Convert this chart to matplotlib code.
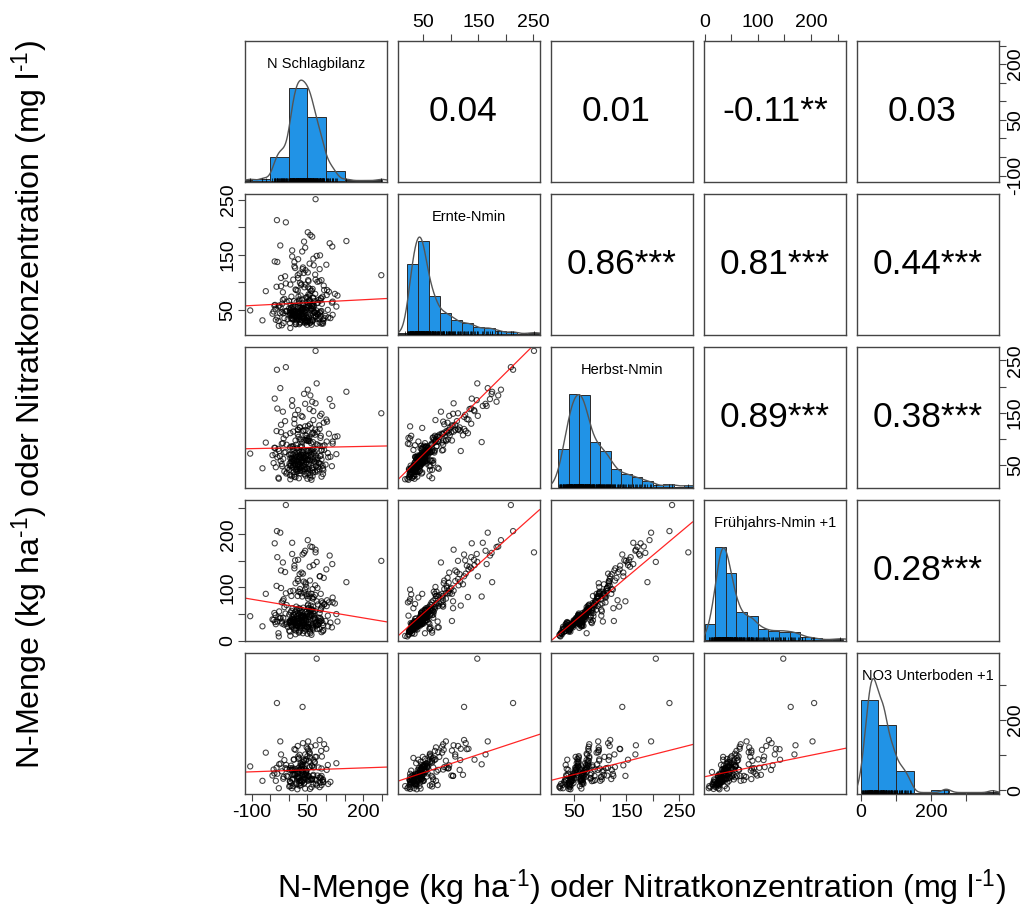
import numpy as np
import matplotlib.pyplot as plt

plt.rcParams['font.family'] = ['Liberation Sans', 'DejaVu Sans']
plt.rcParams['mathtext.fontset'] = 'custom'
plt.rcParams['mathtext.rm'] = 'Liberation Sans'
plt.rcParams['mathtext.it'] = 'Liberation Sans:italic'
plt.rcParams['mathtext.default'] = 'regular'

nan = np.nan

var_names = ['N Schlagbilanz', 'Ernte-Nmin', 'Herbst-Nmin',
             'Frühjahrs-Nmin +1', 'NO3 Unterboden +1']

# one value per field/year, same order in every list (nan = no subsoil sample)
schlagbilanz = [
    42, 18, 65, -12, 27, 57, 4, 8, 71, 31,
    24, -28, 52, 14, 88, 13, 45, 61, 29, -5,
    50, 35, 85, 22, 20, -18, 63, 41, 12, 76,
    39, 54, 28, 2, -35, 69, 31, 17, 5, 82,
    38, 51, 26, 9, 116, 36, 92, 17, 45, -22,
    66, 34, 91, 23, 74, 21, 9, 55, 1, 30,
    62, -41, 37, 53, 14, 25, 79, 32, 6, 93,
    25, 49, 57, 2, 44, 61, 27, -9, 52, 11,
    105, 19, 47, 70, 33, -31, 56, 15, 11, 84,
    39, 28, -104, 65, 30, 87, 4, 46, 73, 36,
    -15, 128, 21, 23, 59, 48, 89, 16, 43, -44,
    67, 35, 51, 27, 78, 7, 112, 8, 54, 40,
    -24, 62, 31, 95, 19, 38, 35, -19, 48, 22,
    96, 102, 12, -62, 66, 29, 52, 10, 75, -37,
    47, 83, 36, -6, 60, 18, 91, 3, 118, 33,
    -28, 26, 64, -14, 45, 71, 12, 55, 108, 24,
    86, -33, 49, 83, 24, 77, 131, 40, -8, 67,
    52, 44, 94, -21, 66, 29, 103, 15, 82, 15,
    61, 34, -16, 56, 88, 25, 72, 9, 117, -38,
    63, 41, 51, 37, 249, 155, 75, -32, -8, 72,
    3, 77, -27, 48, 15, 92, 36, 58, 21, -7,
    64, 28, 54, 10, 83, 39, -71, 69, 19, 47,
    6, 61, 32, -19, 73, 26, 44, 99, 12, 57,
    34, -3, 80, 23, 50, 41, 16, 43, 67, 8,
    -26, 52, 29, 86, 1, 37, 63, 18, -12, 46,
    75, 24, 106, 33, 59, 14, -36, 70, 40, 5,
    88, 27, 49, 31, -16, 56, 11, 78, 42, -39,
    65, 20, 118, 35, 53, 7, 48, -21, 85, 25,
    62, 124, 38, 4, 71, 45, 57, -10, 30, 101,
    52, 17, 66, -31, 84, 44, 110, 9, 58, -23,
]
ernte_nmin = [
    28, 24, 31, 35, 66, 27, 17, 33, 38, 26,
    44, 30, 29, 36, 25, 41, 32, 23, 37, 48,
    34, 31, 38, 44, 27, 61, 29, 47, 33, 62,
    52, 36, 24, 40, 32, 45, 28, 37, 43, 34,
    62, 30, 46, 39, 63, 50, 33, 41, 29, 55,
    36, 42, 27, 38, 49, 31, 35, 57, 66, 44,
    32, 47, 39, 78, 66, 34, 43, 37, 53, 30,
    40, 35, 68, 45, 45, 52, 38, 48, 57, 43,
    50, 41, 59, 46, 54, 36, 62, 47, 51, 44,
    58, 40, 49, 53, 46, 71, 42, 55, 39, 69,
    44, 56, 64, 45, 50, 37, 61, 47, 52, 43,
    58, 49, 118, 46, 41, 54, 35, 47, 66, 51,
    44, 57, 39, 86, 48, 53, 52, 22, 73, 45,
    35, 77, 57, 84, 48, 69, 91, 55, 25, 59,
    72, 46, 156, 65, 53, 87, 74, 49, 41, 95,
    56, 74, 88, 26, 96, 79, 105, 68, 83, 113,
    71, 92, 23, 124, 85, 101, 76, 117, 98, 131,
    73, 26, 94, 108, 72, 116, 86, 129, 102, 137,
    48, 97, 82, 134, 104, 142, 105, 147, 165, 138,
    183, 174, 191, 124, 113, 175, 148, 213, 209, 251,
    26, 34, 21, 30, 39, 25, 43, 29, 36, 47,
    61, 33, 38, 42, 27, 36, 31, 45, 24, 40,
    35, 51, 76, 46, 37, 53, 30, 39, 44, 26,
    49, 33, 68, 37, 64, 34, 56, 48, 55, 44,
    58, 41, 62, 47, 53, 38, 57, 46, 70, 50,
    43, 56, 36, 49, 84, 45, 52, 66, 42, 59,
    48, 32, 54, 54, 68, 77, 47, 63, 91, 58,
    72, 86, 65, 51, 102, 74, 28, 93, 67, 108,
    85, 79, 127, 96, 114, 122, 88, 111, 99, 132,
    104, 126, 143, 137, 149, 163, 171, 158, 186, 167,
]
herbst_nmin = [
    33, 27, 36, 38, 25, 31, 23, 29, 37, 34,
    39, 26, 35, 32, 28, 37, 30, 22, 39, 36,
    24, 45, 52, 57, 42, 48, 44, 55, 50, 41,
    58, 47, 43, 53, 46, 56, 40, 51, 49, 54,
    59, 42, 52, 45, 48, 57, 44, 50, 46, 58,
    41, 55, 49, 43, 53, 47, 56, 59, 41, 51,
    45, 54, 48, 43, 58, 50, 47, 55, 57, 40,
    52, 44, 59, 49, 64, 71, 62, 75, 68, 61,
    73, 66, 77, 63, 69, 65, 74, 60, 70, 67,
    79, 64, 72, 61, 66, 78, 63, 70, 68, 76,
    62, 71, 75, 67, 65, 60, 79, 73, 63, 69,
    74, 61, 77, 68, 64, 72, 66, 62, 78, 70,
    67, 76, 63, 79, 69, 74, 84, 91, 97, 82,
    88, 95, 86, 93, 81, 99, 96, 85, 90, 83,
    98, 87, 94, 89, 92, 97, 86, 84, 95, 99,
    81, 104, 112, 101, 117, 108, 114, 103, 110, 118,
    106, 115, 102, 119, 109, 113, 105, 116, 107, 111,
    100, 124, 131, 127, 136, 122, 133, 138, 126, 129,
    121, 144, 152, 157, 148, 155, 168, 174, 163, 177,
    171, 186, 194, 142, 149, 190, 206, 232, 237, 268,
    31, 38, 24, 35, 28, 33, 39, 26, 37, 34,
    29, 46, 53, 58, 42, 50, 44, 57, 41, 55,
    49, 59, 45, 52, 48, 56, 43, 51, 47, 40,
    58, 45, 54, 50, 59, 42, 53, 66, 72, 63,
    77, 61, 75, 68, 70, 64, 79, 62, 74, 67,
    60, 73, 65, 69, 78, 63, 71, 76, 66, 70,
    61, 79, 68, 85, 92, 96, 81, 88, 98, 83,
    94, 89, 91, 87, 97, 86, 106, 113, 102, 117,
    109, 104, 115, 111, 118, 107, 128, 134, 122, 137,
    125, 146, 153, 158, 144, 167, 176, 163, 183, 197,
]
fruehjahrs_nmin = [
    18, 12, 25, 30, 15, 22, 9, 26, 33, 19,
    28, 14, 31, 24, 16, 35, 21, 11, 27, 34,
    13, 28, 36, 41, 24, 32, 30, 39, 35, 22,
    44, 29, 17, 37, 31, 42, 23, 34, 38, 33,
    47, 26, 40, 27, 25, 46, 29, 36, 32, 43,
    21, 38, 33, 28, 35, 30, 41, 45, 19, 34,
    27, 39, 31, 25, 48, 37, 30, 42, 36, 20,
    33, 26, 49, 35, 42, 48, 33, 51, 45, 38,
    47, 29, 55, 40, 44, 36, 57, 31, 49, 43,
    62, 35, 46, 41, 52, 60, 37, 39, 28, 54,
    43, 50, 58, 47, 32, 24, 64, 53, 45, 40,
    51, 36, 66, 48, 30, 56, 34, 44, 61, 46,
    42, 59, 27, 68, 50, 14, 58, 72, 84, 46,
    69, 65, 38, 88, 55, 92, 79, 61, 74, 35,
    101, 52, 83, 67, 58, 108, 71, 33, 81, 89,
    44, 92, 97, 78, 109, 86, 94, 55, 72, 116,
    88, 103, 47, 121, 84, 99, 36, 111, 89, 82,
    68, 96, 118, 132, 64, 125, 76, 141, 37, 136,
    88, 128, 147, 139, 74, 152, 171, 163, 144, 183,
    176, 165, 189, 162, 150, 110, 148, 206, 255, 166,
    17, 29, 8, 26, 21, 18, 33, 14, 28, 31,
    23, 31, 35, 40, 22, 34, 27, 44, 19, 38,
    29, 46, 25, 36, 33, 42, 28, 37, 30, 17,
    48, 26, 43, 32, 51, 24, 39, 43, 47, 36,
    55, 33, 60, 41, 49, 29, 58, 37, 63, 45,
    31, 52, 27, 44, 66, 40, 48, 56, 35, 53,
    38, 61, 50, 57, 75, 83, 39, 68, 90, 52,
    79, 64, 72, 46, 88, 84, 87, 99, 58, 112,
    81, 70, 126, 93, 104, 106, 113, 129, 97, 134,
    61, 151, 142, 157, 121, 169, 160, 184, 177, 203,
]
no3_unterboden = [
    22, nan, 41, nan, 18, nan, 12, 6, nan, 28,
    47, nan, 30, nan, 15, 87, nan, 9, 13, 61,
    nan, 25, nan, 55, 19, nan, 33, 62, nan, 14,
    71, 40, nan, 58, 27, nan, 21, 45, nan, 36,
    80, nan, 64, 30, nan, 68, 24, 49, nan, 76,
    17, nan, 29, 3, 95, nan, 43, 66, 11, nan,
    31, 59, 42, nan, 88, 35, nan, 77, 70, 23,
    nan, 37, 93, nan, 5, nan, 26, 63, nan, 12,
    72, nan, 85, 31, nan, 47, 104, nan, 58, 22,
    nan, 36, 68, nan, 41, 112, nan, 54, 19, nan,
    33, 77, nan, 49, 29, nan, 96, 61, nan, 42,
    65, nan, 118, 37, nan, 59, 24, nan, 83, 46,
    nan, 70, 28, 131, nan, 52, 67, nan, 122, 35,
    nan, 58, nan, 107, 44, nan, 139, nan, 29, nan,
    88, nan, 74, 41, nan, 115, nan, 26, nan, 62,
    nan, 53, nan, 38, nan, 95, nan, 31, nan, 126,
    nan, 64, nan, 143, nan, 42, nan, 86, nan, nan,
    27, 47, nan, 102, nan, 58, nan, 117, nan, nan,
    32, 71, nan, nan, 41, nan, 128, nan, nan, nan,
    nan, nan, nan, 237, nan, nan, 374, 248, nan, nan,
    24, nan, 6, 43, nan, 31, 58, nan, 17, 72,
    nan, 36, nan, 63, 9, nan, 27, 81, nan, 48,
    21, nan, 15, 54, nan, 89, 33, nan, 46, 4,
    nan, 39, 65, nan, 97, 19, nan, 42, nan, 57,
    74, nan, 101, 34, nan, 25, 68, nan, 86, 51,
    nan, 39, 18, nan, 124, 45, nan, 79, 29, nan,
    62, 92, nan, 71, nan, 108, 33, nan, 84, 48,
    nan, 59, nan, 27, 113, nan, 56, nan, 37, 96,
    nan, nan, 134, 63, nan, 44, 66, nan, nan, 118,
    41, nan, 87, nan, nan, 102, nan, nan, nan, 139,
]

# Pearson r with significance stars, upper triangle row by row
corr_labels = ['0.04', '0.01', '-0.11**', '0.03',
               '0.86***', '0.81***', '0.44***',
               '0.89***', '0.38***',
               '0.28***']

# lm(y ~ x) for the lower panels, row by row: intercept, slope
fit_intercepts = [61.4, 82.9, 18.3, 66.2, 5.2, -5.2, 56.3, 24.1, 26.0, 38.6]
fit_slopes = [0.035, 0.014, 1.041, -0.117, 0.923, 0.827, 0.037, 0.517, 0.377, 0.305]

hist_binwidth = [50, 20, 20, 20, 50]

tick_marks = [[-100, -50, 0, 50, 100, 150, 200, 250],
              [50, 100, 150, 200, 250],
              [50, 100, 150, 200, 250],
              [0, 50, 100, 150, 200, 250],
              [0, 100, 200, 300]]
tick_labelled = [[-100, 50, 200], [50, 150, 250], [50, 150, 250],
                 [0, 100, 200], [0, 200]]

# plotting range of each variable
lims = [(-118, 263), (4, 261), (6, 276), (-1, 265), (-11, 391)]

data = [np.array(v, dtype=float) for v in
        (schlagbilanz, ernte_nmin, herbst_nmin, fruehjahrs_nmin, no3_unterboden)]

BLUE = '#2193E6'
FRAME = '#444444'
W, H = 1022, 909
X0, Y0, STEP, SIZE = 245, 40.7, 153.0, 141.5


def density_r(x):
    # gaussian kernel, bw.nrd0 like R's density()
    n = x.size
    sd = x.std(ddof=1)
    q75, q25 = np.percentile(x, [75, 25])
    bw = 0.9 * min(sd, (q75 - q25) / 1.34) * n ** -0.2
    grid = np.linspace(x.min() - 3 * bw, x.max() + 3 * bw, 512)
    d = np.exp(-0.5 * ((grid[:, None] - x[None, :]) / bw) ** 2).sum(axis=1)
    return grid, d / (n * bw * np.sqrt(2 * np.pi))


def tick_labels(k):
    return [str(v) if v in tick_labelled[k] else '' for v in tick_marks[k]]


fig = plt.figure(figsize=(W / 100, H / 100), dpi=100)

upper = iter(corr_labels)
lower = iter(zip(fit_intercepts, fit_slopes))

for i in range(5):
    for j in range(5):
        rect = [(X0 + j * STEP) / W, 1 - (Y0 + i * STEP + SIZE) / H, SIZE / W, SIZE / H]
        ax = fig.add_axes(rect)
        ax.set_xlim(lims[j])
        ax.set_ylim(lims[i])
        for s in ax.spines.values():
            s.set_color(FRAME)
            s.set_linewidth(1.0)

        show_top = i == 0 and j % 2 == 1
        show_bottom = i == 4 and j % 2 == 0
        show_left = j == 0 and i % 2 == 1
        show_right = j == 4 and i % 2 == 0
        ax.set_xticks(tick_marks[j])
        ax.set_xticklabels(tick_labels(j))
        ax.set_yticks(tick_marks[i])
        ax.set_yticklabels(tick_labels(i), rotation=90, va='center')
        ax.tick_params(top=show_top, bottom=show_bottom, labeltop=show_top,
                       labelbottom=show_bottom, left=show_left, right=show_right,
                       labelleft=show_left, labelright=show_right,
                       direction='out', length=5, width=0.8, color=FRAME,
                       labelsize=14)
        ax.tick_params(axis='x', pad=2)
        ax.tick_params(axis='y', pad=1)

        if i > j:
            x, y = data[j], data[i]
            ok = np.isfinite(x) & np.isfinite(y)
            ax.scatter(x[ok], y[ok], s=14, facecolors='none',
                       edgecolors=(0, 0, 0, 0.72), linewidths=0.8)
            b0, b1 = next(lower)
            xs = np.array(lims[j], dtype=float)
            ax.plot(xs, b0 + b1 * xs, color='red', lw=0.9, alpha=0.85)
        elif i < j:
            lab = next(upper)
            xc = 0.5 if '*' in lab else 0.458
            ax.text(xc, 0.5, lab, transform=ax.transAxes, ha='center',
                    va='center', fontsize=25.5)
        else:
            x = data[i][np.isfinite(data[i])]
            w = hist_binwidth[i]
            edges = np.arange(np.floor(x.min() / w) * w, x.max() + w, w)
            counts, edges = np.histogram(x, edges)
            dens = counts / (x.size * w)
            m = dens.max()
            hax = fig.add_axes(rect)
            hax.set_axis_off()
            hax.set_xlim(lims[i])
            hax.set_ylim(-0.018 * m, 1.51 * m)
            hax.bar(edges[:-1], dens, width=w, align='edge', color=BLUE,
                    edgecolor='#2a2a2a', linewidth=0.7)
            gx, gy = density_r(x)
            hax.plot(gx, gy, color='#555555', lw=1.0)
            hax.vlines(x, 0, 0.03, transform=hax.get_xaxis_transform(),
                       color='black', lw=0.5)
            hax.text(0.5, 0.835, var_names[i], transform=hax.transAxes,
                     ha='center', va='center', fontsize=10.5)

axis_title = r'N-Menge (kg ha$^{\text{-}1}$) oder Nitratkonzentration (mg l$^{\text{-}1}$)'
fig.text(641 / W, 1 - 888 / H, axis_title, ha='center', va='center', fontsize=23.2)
fig.text(30 / W, 1 - 405 / H, axis_title, ha='center', va='center',
         rotation=90, fontsize=23.2)

fig.savefig('out.png', dpi=100)
